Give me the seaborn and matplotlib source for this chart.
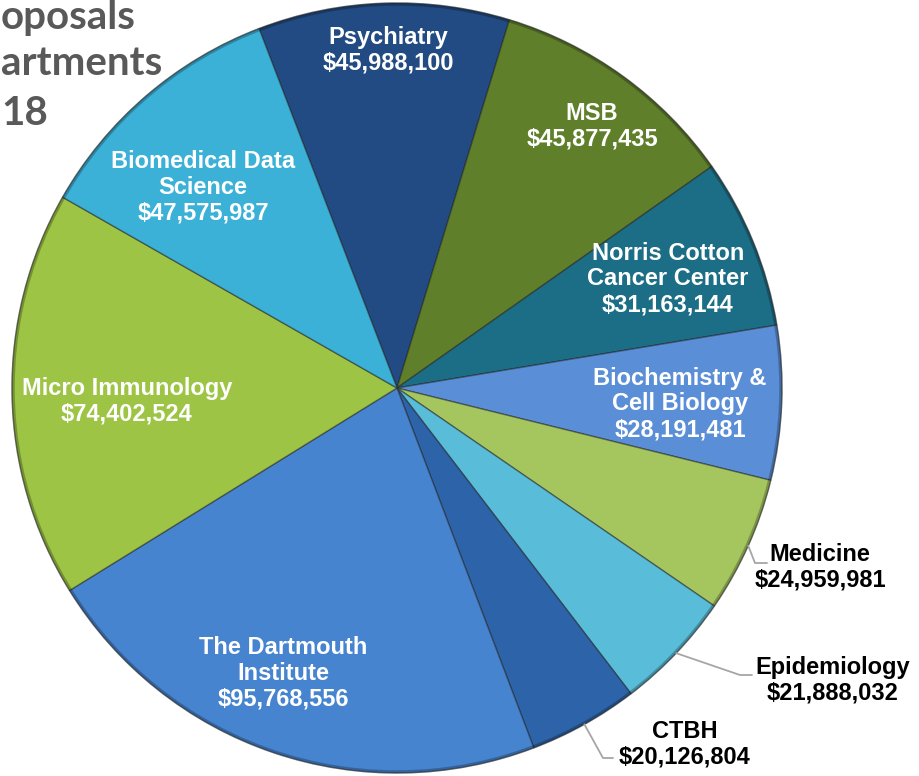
import numpy as np
import matplotlib
matplotlib.use("Agg")
import matplotlib.pyplot as plt
from matplotlib.patches import Circle
import seaborn as sns

# ===========================
# 1. DATA
# ===========================
departments = ["Psychiatry", "MSB", "Norris Cotton\nCancer Center", "Biochemistry &\nCell Biology",
               "Medicine", "Epidemiology", "CTBH", "The Dartmouth\nInstitute",
               "Micro Immunology", "Biomedical Data\nScience"]
amounts = [45988100, 45877435, 31163144, 28191481, 24959981,
           21888032, 20126804, 95768556, 74402524, 47575987]
colors = ["#214B82", "#5F7F2A", "#1C6E86", "#5A8ED6", "#A5C55F",
          "#59BDD9", "#2D63A8", "#4684CF", "#9DC444", "#3CB1D7"]
# only the part of the title that is visible in the corner
title_lines = ["oposals", "artments", "18"]

# ===========================
# 2. LAYOUT (image pixel coords, y down)
# ===========================
W, H = 920, 776
CX, CY, R = 397, 388, 385
label_pos = [(388, 50), (592, 126), (668, 279), (680, 404), (820, 567),
             (833, 680), (685, 744), (283, 673), (127, 401), (203, 187)]
outside = {4: [(755, 563), (767, 563)],
           5: [(740, 675), (752, 675)],
           6: [(603, 758), (613, 758)]}


def px(x, y):
    return x, H - y


sns.set_theme(style="white")
plt.rcParams["font.family"] = ["Liberation Sans", "DejaVu Sans"]

fig = plt.figure(figsize=(W / 100, H / 100), dpi=100)
ax = fig.add_axes([0, 0, 1, 1])

wedges, _ = ax.pie(amounts, colors=colors, startangle=111, counterclock=False,
                   center=px(CX, CY), radius=R, frame=True,
                   wedgeprops=dict(edgecolor=(0.12, 0.12, 0.12, 0.5), linewidth=1.0))
# soft dark rim like the bevelled original
ax.add_patch(Circle(px(CX, CY), R - 1, fill=False, edgecolor=(0, 0, 0, 0.25), lw=2.5))

ax.set_xlim(0, W)
ax.set_ylim(0, H)
ax.set_aspect("equal")
ax.axis("off")

# ===========================
# 3. LABELS
# ===========================
for i, (name, val) in enumerate(zip(departments, amounts)):
    txt = f"{name}\n${val:,.0f}"
    x, y = px(*label_pos[i])
    col = "black" if i in outside else "white"
    ax.text(x, y, txt, ha="center", va="center", fontsize=17, fontweight="bold",
            color=col, linespacing=1.15)
    if i in outside:
        w = wedges[i]
        mid = np.deg2rad((w.theta1 + w.theta2) / 2)
        cx, cy = w.center
        sx, sy = cx + w.r * np.cos(mid), cy + w.r * np.sin(mid)
        pts = [(sx, sy)] + [px(*p) for p in outside[i]]
        ax.plot([p[0] for p in pts], [p[1] for p in pts], color="#A6A6A6", lw=1.3)

# title fragment in the top-left corner
for line, (xl, yb) in zip(title_lines, [(1, 29), (1, 75), (1, 125)]):
    x, y = px(xl, yb)
    ax.text(x, y, line, ha="left", va="baseline", fontsize=29, fontweight="bold",
            color="#595959", family=["Lato", "DejaVu Sans"])

plt.savefig("out.png", dpi=100)
plt.close()
